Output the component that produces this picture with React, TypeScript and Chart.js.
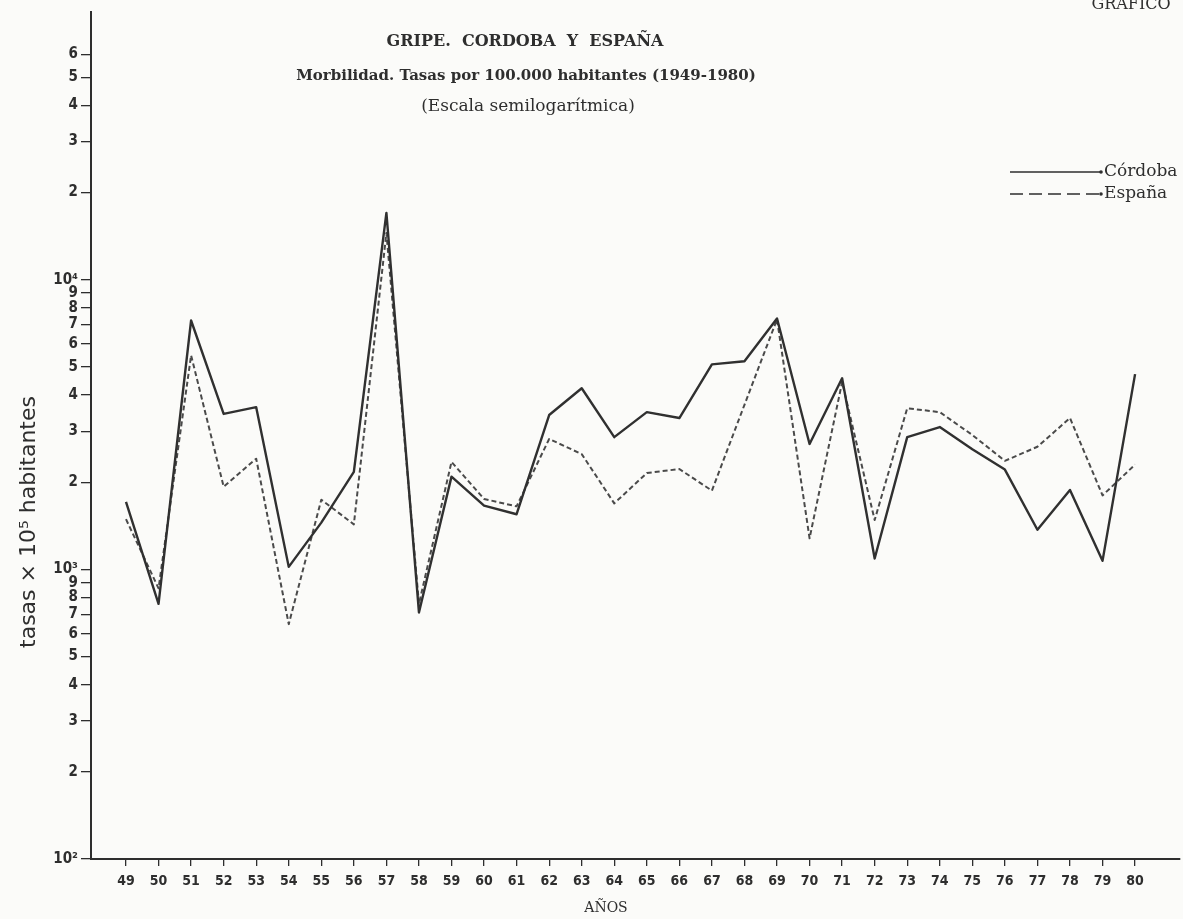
import React, { useEffect, useRef } from "react";
import { Chart, registerables } from "chart.js";

Chart.register(...registerables);

// ---- data ----
const years = [
  "49", "50", "51", "52", "53", "54", "55", "56", "57", "58", "59", "60", "61", "62", "63", "64",
  "65", "66", "67", "68", "69", "70", "71", "72", "73", "74", "75", "76", "77", "78", "79", "80",
];

const cordoba = [
  1710, 760, 7230, 3440, 3630, 1020, 1450, 2170, 17000, 710, 2090, 1660, 1550, 3410, 4220, 2860,
  3490, 3330, 5100, 5230, 7350, 2710, 4570, 1090, 2860, 3100, 2600, 2210, 1370, 1880, 1070, 4720,
];

const espana = [
  1490, 860, 5480, 1930, 2410, 647, 1740, 1430, 14500, 760, 2350, 1750, 1650, 2820, 2500, 1690,
  2150, 2220, 1870, 3700, 7300, 1280, 4430, 1480, 3600, 3490, 2910, 2370, 2650, 3330, 1800, 2300,
];

const yTickValues = [
  100, 200, 300, 400, 500, 600, 700, 800, 900,
  1000, 2000, 3000, 4000, 5000, 6000, 7000, 8000, 9000,
  10000, 20000, 30000, 40000, 50000, 60000,
];

const titleLines = [
  "GRIPE.  CORDOBA  Y  ESPAÑA",
  "Morbilidad. Tasas por 100.000 habitantes (1949-1980)",
  "(Escala semilogarítmica)",
];
const seriesNames = ["Córdoba", "España"];
const xAxisTitle = "AÑOS";
const yAxisTitle = "tasas × 10⁵ habitantes";
const cornerText = "GRAFICO";

// ---- layout / style ----
const W = 1183;
const H = 919;
const INK = "#2e2e2e";
const SERIF = "'DejaVu Serif', 'Liberation Serif', serif";
const SANS = "'DejaVu Sans Condensed', 'DejaVu Sans', sans-serif";

function yLabel(v: number): string {
  if (v === 100) return "10²";
  if (v === 1000) return "10³";
  if (v === 10000) return "10⁴";
  const p = Math.pow(10, Math.floor(Math.log10(v) + 1e-9));
  return String(Math.round(v / p));
}

const decor = {
  id: "decor",
  beforeDraw(chart: any) {
    const ctx = chart.ctx;
    ctx.save();
    ctx.fillStyle = "#fbfbf9";
    ctx.fillRect(0, 0, chart.width, chart.height);
    ctx.restore();
  },
  afterDraw(chart: any) {
    const ctx = chart.ctx as CanvasRenderingContext2D;
    ctx.save();
    ctx.fillStyle = INK;
    ctx.strokeStyle = INK;
    ctx.textAlign = "center";
    ctx.textBaseline = "middle";

    ctx.font = `bold 16px ${SERIF}`;
    ctx.fillText(titleLines[0], 525, 42);
    ctx.font = `bold 15px ${SERIF}`;
    ctx.fillText(titleLines[1], 526, 76);
    ctx.font = `17px ${SERIF}`;
    ctx.fillText(titleLines[2], 528, 107);

    ctx.font = `16px ${SERIF}`;
    ctx.fillText(cornerText, 1131, 5);

    ctx.font = `14px ${SERIF}`;
    ctx.fillText(xAxisTitle, 606, 908);

    // legend
    ctx.textAlign = "left";
    ctx.font = `17px ${SERIF}`;
    ctx.lineWidth = 1.6;
    ctx.beginPath();
    ctx.moveTo(1010, 172);
    ctx.lineTo(1100, 172);
    ctx.stroke();
    ctx.beginPath();
    ctx.arc(1101, 172, 1.8, 0, Math.PI * 2);
    ctx.fill();
    ctx.fillText(seriesNames[0], 1104, 172);

    ctx.setLineDash([13, 6]);
    ctx.beginPath();
    ctx.moveTo(1010, 194);
    ctx.lineTo(1100, 194);
    ctx.stroke();
    ctx.setLineDash([]);
    ctx.beginPath();
    ctx.arc(1101, 194, 1.8, 0, Math.PI * 2);
    ctx.fill();
    ctx.fillText(seriesNames[1], 1104, 194);

    // y axis title
    ctx.save();
    ctx.translate(29, 522);
    ctx.rotate(-Math.PI / 2);
    ctx.textAlign = "center";
    ctx.font = `22px 'DejaVu Sans', sans-serif`;
    ctx.fillText(yAxisTitle, 0, 0);
    ctx.restore();

    ctx.restore();
  },
};

export default function App() {
  const ref = useRef<HTMLCanvasElement | null>(null);

  useEffect(() => {
    if (!ref.current) return;
    const chart = new Chart(ref.current, {
      type: "line",
      data: {
        datasets: [
          {
            label: seriesNames[0],
            data: cordoba.map((v, i) => ({ x: i, y: v })),
            borderColor: "#303030",
            borderWidth: 2.4,
            pointRadius: 0,
            tension: 0,
            fill: false,
            borderJoinStyle: "round",
          },
          {
            label: seriesNames[1],
            data: espana.map((v, i) => ({ x: i, y: v })),
            borderColor: "#4a4a4a",
            borderWidth: 2,
            borderDash: [5, 3],
            pointRadius: 0,
            tension: 0,
            fill: false,
            borderJoinStyle: "round",
          },
        ],
      },
      options: {
        animation: false,
        responsive: false,
        devicePixelRatio: 1,
        layout: { padding: { left: 0, right: 3, top: 8, bottom: 0 } },
        plugins: {
          legend: { display: false },
          tooltip: { enabled: false },
          title: { display: false },
        },
        scales: {
          x: {
            type: "linear",
            bounds: "data",
            min: -1.075,
            max: years.length - 1 + 1.38,
            afterBuildTicks: (s: any) => {
              s.ticks = years.map((_, i) => ({ value: i }));
            },
            afterFit: (s: any) => {
              s.height = 60;
            },
            ticks: {
              autoSkip: false,
              maxRotation: 0,
              minRotation: 0,
              padding: 7,
              color: INK,
              font: { family: SANS, size: 14, weight: "bold" },
              callback: (v: any) => years[Math.round(Number(v))] ?? "",
            },
            grid: {
              drawOnChartArea: false,
              drawTicks: true,
              tickLength: 7,
              color: INK,
              lineWidth: 1.3,
            },
            border: { display: true, color: INK, width: 2 },
          },
          y: {
            type: "logarithmic",
            bounds: "data",
            min: 100,
            max: 84000,
            afterBuildTicks: (s: any) => {
              s.ticks = yTickValues.map((v) => ({ value: v }));
            },
            afterFit: (s: any) => {
              s.width = 91;
            },
            ticks: {
              autoSkip: false,
              padding: 3,
              color: INK,
              font: { family: SANS, size: 15, weight: "bold" },
              callback: (v: any) => yLabel(Number(v)),
            },
            grid: {
              drawOnChartArea: false,
              drawTicks: true,
              tickLength: 10,
              color: INK,
              lineWidth: 1.3,
            },
            border: { display: true, color: INK, width: 2 },
          },
        },
      },
      plugins: [decor],
    });
    return () => chart.destroy();
  }, []);

  return (
    <div style={{ position: "absolute", left: 0, top: 0, width: W, height: H, overflow: "hidden" }}>
      <canvas ref={ref} width={W} height={H} style={{ display: "block", width: W, height: H }} />
    </div>
  );
}
